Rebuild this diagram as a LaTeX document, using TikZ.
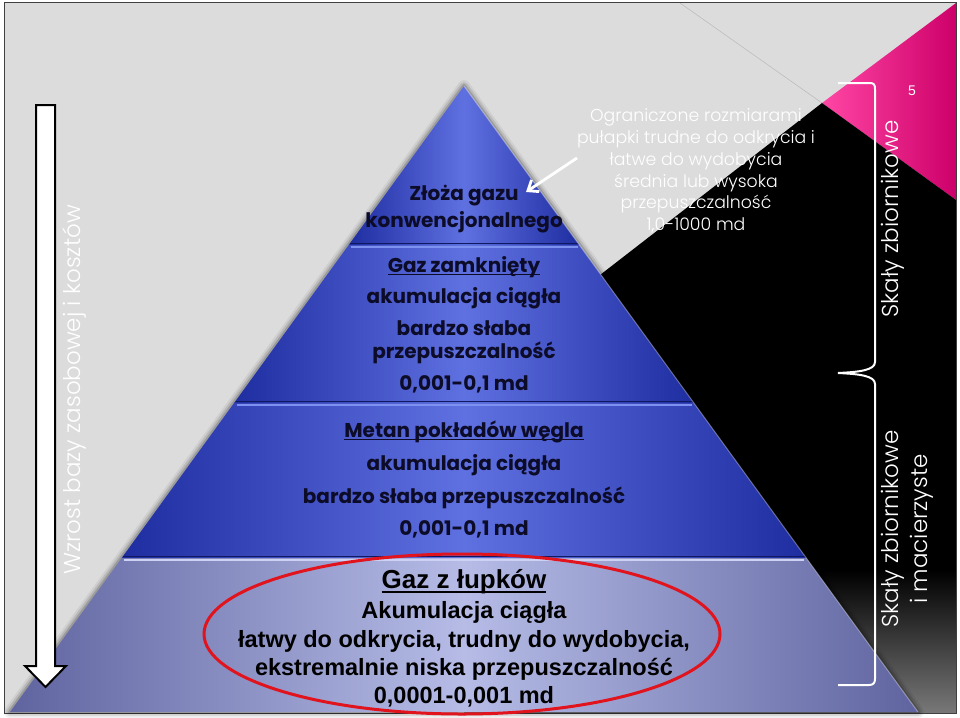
\documentclass[tikz,border=0pt]{standalone}
\usepackage{fontspec}
\setmainfont{Poppins}
\newfontfamily\cgl{Poppins Light}
\newfontfamily\arialf{Liberation Sans}
\usetikzlibrary{arrows.meta,shapes.geometric}
\definecolor{bg}{RGB}{220,220,220}
\definecolor{pinkL}{RGB}{255,70,165}
\definecolor{pinkR}{RGB}{205,0,105}
\definecolor{blkbot}{RGB}{120,120,120}
\definecolor{bE}{RGB}{30,45,160}
\definecolor{bM}{RGB}{95,112,225}
\definecolor{gE}{RGB}{95,100,160}
\definecolor{gM}{RGB}{182,188,230}
\definecolor{hlB}{RGB}{125,145,240}
\definecolor{hlG}{RGB}{205,210,245}
\definecolor{dkB}{RGB}{15,25,95}
\definecolor{txt}{RGB}{12,12,40}
\definecolor{redE}{RGB}{225,20,30}
\newcommand\ulx[2]{\setbox0\hbox{#2}\rlap{\rule[#1]{\wd0}{1.5pt}}\box0}
\tikzset{
  tiertxt/.style={anchor=base, text=txt, font=\fontsize{20}{23}\selectfont\bfseries, inner sep=0},
  shaletxt/.style={anchor=base, text=black, font=\fontsize{23.5}{27}\selectfont\arialf\bfseries, inner sep=0},
  wtxt/.style={anchor=base, text=white, font=\fontsize{17.3}{22}\selectfont\cgl, inner sep=0},
  vtxt/.style={text=white, rotate=90, font=\fontsize{23}{29}\selectfont\cgl, inner sep=0, align=center},
}
\begin{document}
\begin{tikzpicture}[x=1pt,y=-1pt]
\useasboundingbox (0,0) rectangle (960,717);
\fill[white] (0,0) rectangle (960,717);
\fill[bg] (4,2) rectangle (956,713);
% background shapes
\draw[gray!55, line width=0.5] (680,3) -- (822,103);
\shade[left color=pinkL, right color=pinkR] (822,103) -- (956,3) -- (956,200) -- cycle;
\fill[black] (822,103) -- (956,200) -- (956,713) -- (464,713) -- (600,275) -- cycle;
\begin{scope}
  \clip (822,103) -- (956,200) -- (956,713) -- (464,713) -- (600,275) -- cycle;
  \shade[top color=black, bottom color=blkbot] (464,570) rectangle (956,713);
\end{scope}
\draw[gray!50!black, line width=0.8] (4,2) rectangle (956,713);
% pyramid shadow
\foreach \w/\o in {12/0.06, 8/0.10, 4/0.16} {
  \draw[line width=\w, black, opacity=\o, line join=round] (464,86) -- (918,712) -- (10,712) -- cycle;
}
% tiers
\shade[left color=bE, right color=bE, middle color=bM] (464,86) -- (579.3,245) -- (348.7,245) -- cycle;
\shade[left color=bE, right color=bE, middle color=bM] (348.7,245) -- (579.3,245) -- (693.9,403) -- (234.1,403) -- cycle;
\shade[left color=bE, right color=bE, middle color=bM] (234.1,403) -- (693.9,403) -- (806.3,558) -- (121.7,558) -- cycle;
\shade[left color=gE, right color=gE, middle color=gM] (121.7,558) -- (806.3,558) -- (918,712) -- (10,712) -- cycle;
% bevel lines
\draw[dkB, line width=1.5] (350,243.5) -- (578,243.5);
\draw[hlB, line width=2.5] (350.5,247) -- (578,247);
\draw[dkB, line width=1.5] (235.5,401.5) -- (692.5,401.5);
\draw[hlB, line width=2.5] (236.5,405) -- (691.5,405);
\draw[dkB, line width=1.5] (123,556.5) -- (805,556.5);
\draw[hlG, line width=2.5] (124,560) -- (804,560);
\draw[white, opacity=0.35, line width=1] (464,86) -- (918,712);
% left arrow
\filldraw[fill=white, draw=black, line width=2, line join=miter] (36,105) -- (55,105) -- (55,666) -- (66,666) -- (45.5,687) -- (25,666) -- (36,666) -- cycle;
\node[vtxt] (wzrost) at (75,390) {Wzrost bazy zasobowej i kosztów};
% pyramid texts
\node[tiertxt] (t1a) at (464,200) {Złoża gazu};
\node[tiertxt] (t1b) at (464,227) {konwencjonalnego};
\node[tiertxt] (t2a) at (464,272) {\ulx{-3pt}{Gaz zamknięty}};
\node[tiertxt] (t2b) at (464,303) {akumulacja ciągła};
\node[tiertxt] (t2c) at (464,335) {bardzo słaba};
\node[tiertxt] (t2d) at (464,358) {przepuszczalność};
\node[tiertxt] (t2e) at (464,390) {0,001-0,1 md};
\node[tiertxt] (t3a) at (464,437) {\ulx{-3pt}{Metan pokładów węgla}};
\node[tiertxt] (t3b) at (464,470) {akumulacja ciągła};
\node[tiertxt] (t3c) at (464,503) {bardzo słaba przepuszczalność};
\node[tiertxt] (t3d) at (464,535) {0,001-0,1 md};
\node[shaletxt, font=\fontsize{26}{30}\selectfont\arialf\bfseries] (t4a) at (464,588) {\ulx{-4.5pt}{Gaz z łupków}};
\node[shaletxt] (t4b) at (464,618) {Akumulacja ciągła};
\node[shaletxt] (t4c) at (464,647) {łatwy do odkrycia, trudny do wydobycia,};
\node[shaletxt] (t4d) at (464,675) {ekstremalnie niska przepuszczalność};
\node[shaletxt] (t4e) at (464,703) {0,0001-0,001 md};
% red ellipse
\node[draw=redE, line width=3, ellipse, minimum width=516, minimum height=160, inner sep=0] (ell) at (462,634) {};
% right text block
\node[wtxt] (r1) at (696,121) {Ograniczone rozmiarami};
\node[wtxt] (r2) at (696,143) {pułapki trudne do odkrycia i};
\node[wtxt] (r3) at (696,165) {łatwe do wydobycia};
\node[wtxt] (r4) at (696,187) {średnia lub wysoka};
\node[wtxt] (r5) at (696,208) {przepuszczalność};
\node[wtxt] (r6) at (696,230) {1,0-1000 md};
% white arrow
\coordinate (aS) at (577,158);
\coordinate (aE) at (526,192);
\draw[white, line width=2.8, -{Straight Barb[length=9pt, width=14pt]}] (aS) -- (aE);
% bracket
\draw[white, line width=2] (838,83) -- (870,83) .. controls (874,83) and (875,85) .. (875,89) -- (875,362) .. controls (875,370) and (860,372) .. (838,373) .. controls (860,374) and (875,376) .. (875,384) -- (875,679) .. controls (875,683) and (873,685) .. (869,685) -- (838,685);
% right vertical texts
\node[vtxt] (sk1) at (893,219) {Skały zbiornikowe};
\node[vtxt] (sk2) at (907,529) {Skały zbiornikowe\\i macierzyste};
\node[text=white, font=\fontsize{14}{16}\selectfont\arialf, inner sep=0] (num) at (912,91) {5};
\end{tikzpicture}
\end{document}
